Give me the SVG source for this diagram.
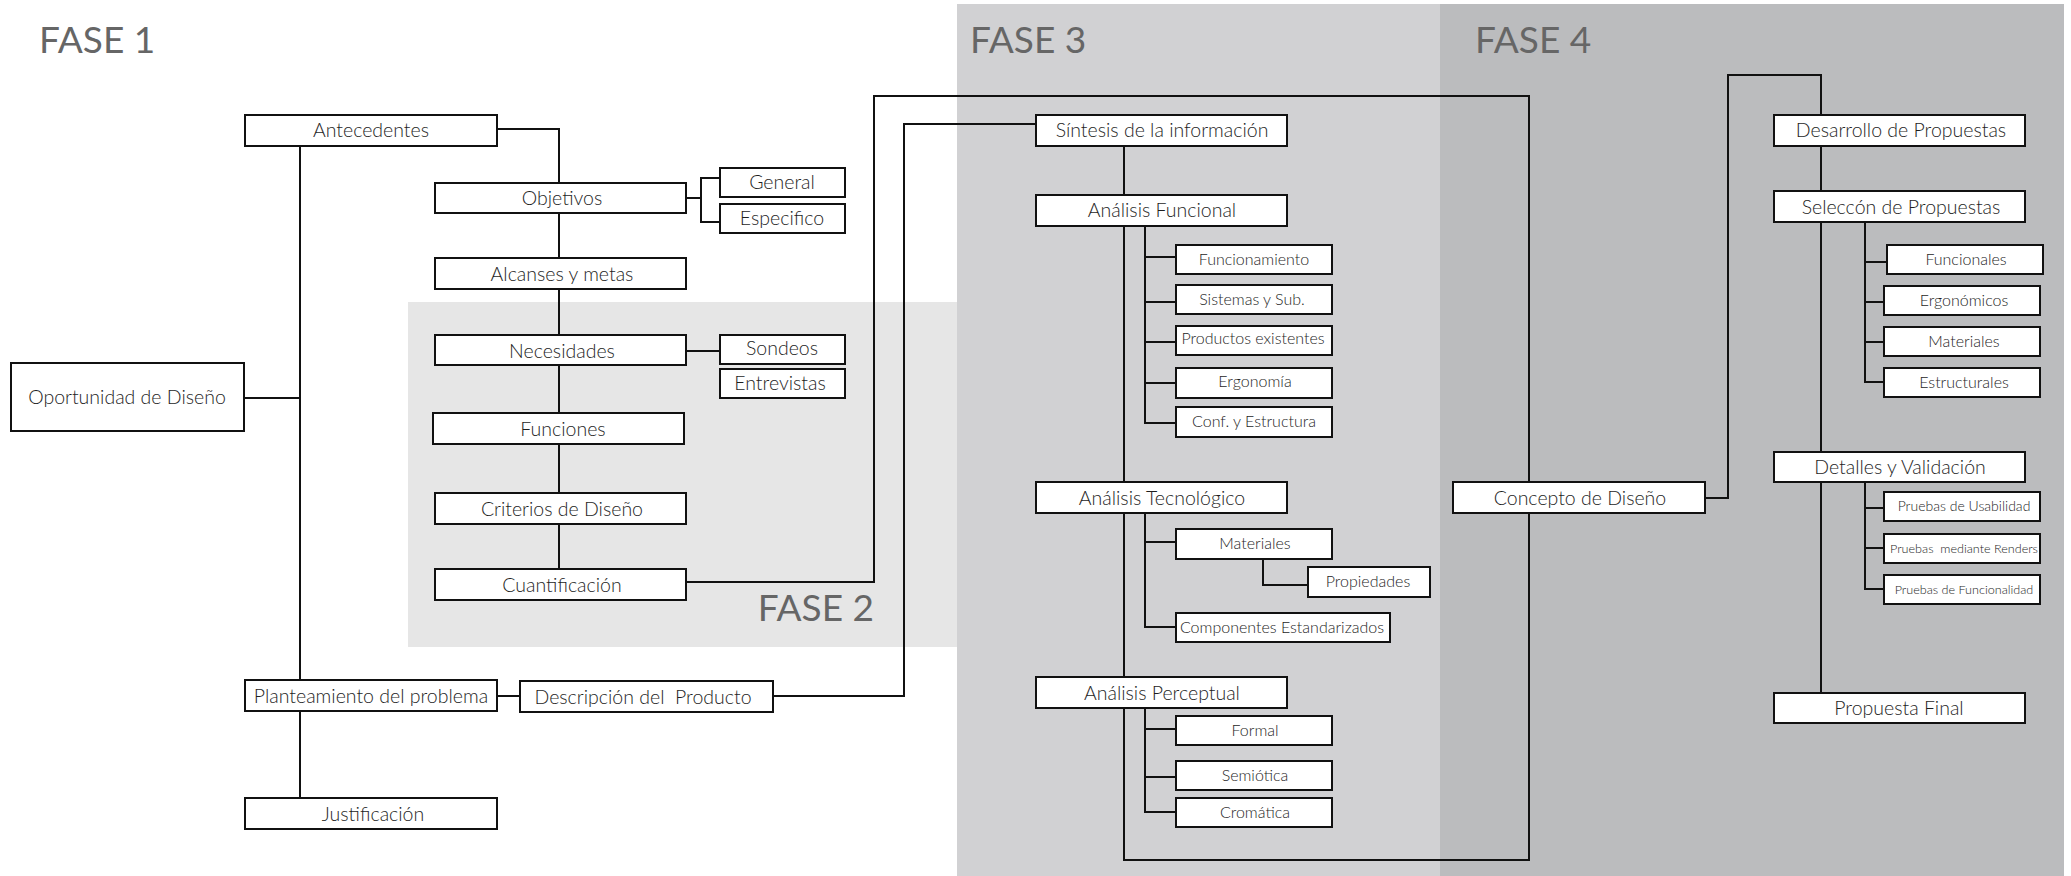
<svg xmlns="http://www.w3.org/2000/svg" width="2071" height="876" viewBox="0 0 2071 876">
  <style>
    .box { fill: #ffffff; stroke: #111111; stroke-width: 2; }
    .lbl { font-family: Lato, "Open Sans", "Liberation Sans", sans-serif; font-weight: 300; fill: #1e1e1e; text-anchor: middle; }
    .l18 { font-size: 19.5px; }
    .l15 { font-size: 16px; }
    .l13 { font-size: 14px; }
    .l12 { font-size: 12.6px; }
    .phase { font-family: Lato, "Open Sans", "Liberation Sans", sans-serif; font-size: 37px; fill: #666666; }
    .wire { fill: none; stroke: #111111; stroke-width: 2; }
  </style>

  <!-- phase backgrounds -->
  <g id="phases">
    <rect x="0" y="0" width="2071" height="876" fill="#ffffff"/>
    <rect x="408" y="302" width="550" height="345" fill="#e6e6e6"/>
    <rect x="957" y="4" width="483" height="872" fill="#d1d1d3"/>
    <rect x="1440" y="4" width="624" height="872" fill="#bbbcbe"/>
    <text class="phase" x="39" y="53">FASE 1</text>
    <text class="phase" x="874" y="621" text-anchor="end">FASE 2</text>
    <text class="phase" x="970" y="53">FASE 3</text>
    <text class="phase" x="1475" y="53">FASE 4</text>
  </g>

  <!-- connectors -->
  <g id="connectors" class="wire">
    <path d="M244 398 H300"/>
    <path d="M300 146 V680"/>
    <path d="M300 711 V798"/>
    <path d="M497 129 H559 V569"/>
    <path d="M686 198 H701"/>
    <path d="M720 178 H701 V222 H720"/>
    <path d="M686 351 H720"/>
    <path d="M497 696 H520"/>
    <path d="M686 582 H874 V96 H1529 V482"/>
    <path d="M773 696 H904 V124 H1036"/>
    <path d="M1124 146 V860 H1529 V513"/>
    <path d="M1145 226 V423 H1176"/>
    <path d="M1145 257 H1176 M1145 302 H1176 M1145 342 H1176 M1145 383 H1176"/>
    <path d="M1145 513 V627 H1176"/>
    <path d="M1145 542 H1176"/>
    <path d="M1263 559 V585 H1308"/>
    <path d="M1145 708 V812 H1176"/>
    <path d="M1145 729 H1176 M1145 777 H1176"/>
    <path d="M1705 498 H1728 V75 H1821 V115"/>
    <path d="M1821 146 V693"/>
    <path d="M1865 222 V382 H1884"/>
    <path d="M1865 262 H1887 M1865 302 H1884 M1865 342 H1884"/>
    <path d="M1865 482 V589 H1884"/>
    <path d="M1865 508 H1884 M1865 548 H1884"/>
  </g>

  <!-- phase 1 / 2 nodes -->
  <g id="oportunidad"><rect class="box" x="11" y="363" width="233" height="68"/><text class="lbl l18" x="127" y="404">Oportunidad de Diseño</text></g>
  <g id="antecedentes"><rect class="box" x="245" y="115" width="252" height="31"/><text class="lbl l18" x="371" y="137">Antecedentes</text></g>
  <g id="objetivos"><rect class="box" x="435" y="183" width="251" height="30"/><text class="lbl l18" x="562" y="205">Objetivos</text></g>
  <g id="general"><rect class="box" x="720" y="168" width="125" height="29"/><text class="lbl l18" x="782" y="189">General</text></g>
  <g id="especifico"><rect class="box" x="720" y="204" width="125" height="29"/><text class="lbl l18" x="782" y="225">Especifico</text></g>
  <g id="alcanses"><rect class="box" x="435" y="258" width="251" height="31"/><text class="lbl l18" x="562" y="281">Alcanses y metas</text></g>
  <g id="necesidades"><rect class="box" x="435" y="335" width="251" height="30"/><text class="lbl l18" x="562" y="358">Necesidades</text></g>
  <g id="sondeos"><rect class="box" x="720" y="335" width="125" height="29"/><text class="lbl l18" x="782" y="355">Sondeos</text></g>
  <g id="entrevistas"><rect class="box" x="720" y="369" width="125" height="29"/><text class="lbl l18" x="780" y="390">Entrevistas</text></g>
  <g id="funciones"><rect class="box" x="433" y="413" width="251" height="31"/><text class="lbl l18" x="563" y="436">Funciones</text></g>
  <g id="criterios"><rect class="box" x="435" y="493" width="251" height="31"/><text class="lbl l18" x="562" y="516">Criterios de Diseño</text></g>
  <g id="cuantificacion"><rect class="box" x="435" y="569" width="251" height="31"/><text class="lbl l18" x="562" y="592">Cuantificación</text></g>
  <g id="planteamiento"><rect class="box" x="245" y="680" width="252" height="31"/><text class="lbl l18" x="371" y="703">Planteamiento del problema</text></g>
  <g id="descripcion"><rect class="box" x="520" y="681" width="253" height="31"/><text class="lbl l18" x="643" y="704" xml:space="preserve">Descripción del  Producto</text></g>
  <g id="justificacion"><rect class="box" x="245" y="798" width="252" height="31"/><text class="lbl l18" x="373" y="821">Justificación</text></g>

  <!-- phase 3 nodes -->
  <g id="sintesis"><rect class="box" x="1036" y="115" width="251" height="31"/><text class="lbl l18" x="1162" y="137">Síntesis de la información</text></g>
  <g id="funcional"><rect class="box" x="1036" y="195" width="251" height="31"/><text class="lbl l18" x="1162" y="217">Análisis Funcional</text></g>
  <g id="funcionamiento"><rect class="box" x="1176" y="245" width="156" height="29"/><text class="lbl l15" x="1254" y="265">Funcionamiento</text></g>
  <g id="sistemas"><rect class="box" x="1176" y="285" width="156" height="29"/><text class="lbl l15" x="1252" y="305">Sistemas y Sub.</text></g>
  <g id="productos"><rect class="box" x="1176" y="326" width="156" height="29"/><text class="lbl l15" x="1253" y="344">Productos existentes</text></g>
  <g id="ergonomia"><rect class="box" x="1176" y="368" width="156" height="30"/><text class="lbl l15" x="1255" y="387">Ergonomía</text></g>
  <g id="conf"><rect class="box" x="1176" y="407" width="156" height="30"/><text class="lbl l15" x="1254" y="427">Conf. y Estructura</text></g>
  <g id="tecnologico"><rect class="box" x="1036" y="482" width="251" height="31"/><text class="lbl l18" x="1162" y="505">Análisis Tecnológico</text></g>
  <g id="materiales3"><rect class="box" x="1176" y="529" width="156" height="30"/><text class="lbl l15" x="1255" y="549">Materiales</text></g>
  <g id="propiedades"><rect class="box" x="1308" y="567" width="122" height="30"/><text class="lbl l15" x="1368" y="587">Propiedades</text></g>
  <g id="componentes"><rect class="box" x="1176" y="613" width="214" height="29"/><text class="lbl l15" x="1282" y="633">Componentes Estandarizados</text></g>
  <g id="perceptual"><rect class="box" x="1036" y="677" width="251" height="31"/><text class="lbl l18" x="1162" y="700">Análisis Perceptual</text></g>
  <g id="formal"><rect class="box" x="1176" y="716" width="156" height="29"/><text class="lbl l15" x="1255" y="736">Formal</text></g>
  <g id="semiotica"><rect class="box" x="1176" y="761" width="156" height="29"/><text class="lbl l15" x="1255" y="781">Semiótica</text></g>
  <g id="cromatica"><rect class="box" x="1176" y="798" width="156" height="29"/><text class="lbl l15" x="1255" y="818">Cromática</text></g>

  <!-- phase 4 nodes -->
  <g id="concepto"><rect class="box" x="1453" y="482" width="252" height="31"/><text class="lbl l18" x="1580" y="505">Concepto de Diseño</text></g>
  <g id="desarrollo"><rect class="box" x="1774" y="115" width="251" height="31"/><text class="lbl l18" x="1901" y="137">Desarrollo de Propuestas</text></g>
  <g id="seleccion"><rect class="box" x="1774" y="191" width="251" height="31"/><text class="lbl l18" x="1901" y="214">Seleccón de Propuestas</text></g>
  <g id="funcionales"><rect class="box" x="1887" y="245" width="156" height="29"/><text class="lbl l15" x="1966" y="265">Funcionales</text></g>
  <g id="ergonomicos"><rect class="box" x="1884" y="286" width="156" height="29"/><text class="lbl l15" x="1964" y="306">Ergonómicos</text></g>
  <g id="materiales4"><rect class="box" x="1884" y="327" width="156" height="29"/><text class="lbl l15" x="1964" y="347">Materiales</text></g>
  <g id="estructurales"><rect class="box" x="1884" y="368" width="156" height="29"/><text class="lbl l15" x="1964" y="388">Estructurales</text></g>
  <g id="detalles"><rect class="box" x="1774" y="452" width="251" height="30"/><text class="lbl l18" x="1900" y="474">Detalles y Validación</text></g>
  <g id="usabilidad"><rect class="box" x="1884" y="492" width="156" height="29"/><text class="lbl l13" x="1964" y="511">Pruebas de Usabilidad</text></g>
  <g id="renders"><rect class="box" x="1884" y="534" width="156" height="29"/><text class="lbl l12" x="1964" y="553" xml:space="preserve">Pruebas  mediante Renders</text></g>
  <g id="funcionalidad"><rect class="box" x="1884" y="575" width="156" height="29"/><text class="lbl l12" x="1964" y="594">Pruebas de Funcionalidad</text></g>
  <g id="final"><rect class="box" x="1774" y="693" width="251" height="30"/><text class="lbl l18" x="1899" y="715">Propuesta Final</text></g>
</svg>
